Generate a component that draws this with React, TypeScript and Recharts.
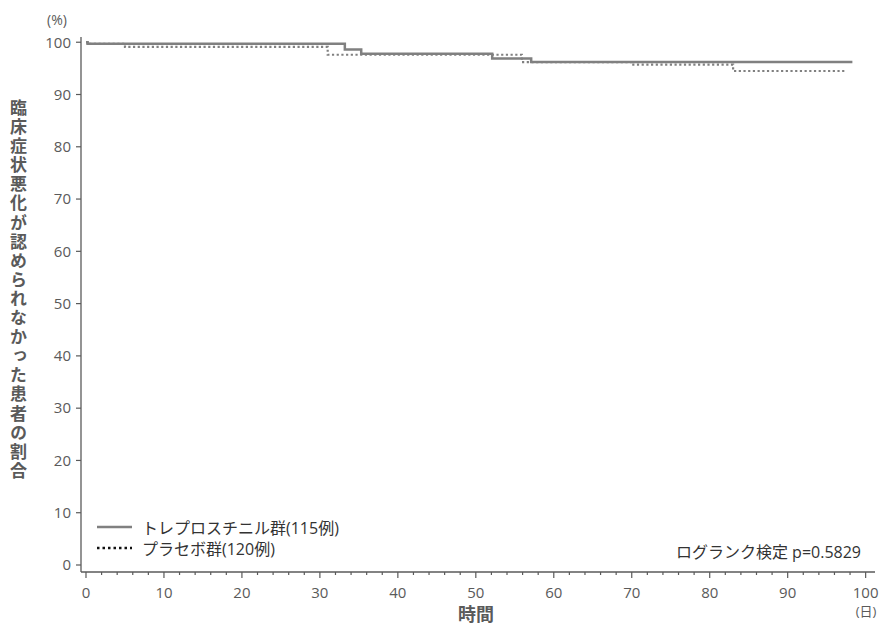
import React from 'react';
import { LineChart, Line, XAxis, YAxis, Legend } from 'recharts';

const treprostinilTimes = [0, 0.2, 33.2, 35.3, 52.1, 57.1, 98.3];
const treprostinilSurvival = [100, 99.7, 98.6, 97.8, 96.9, 96.2, 96.2];
const placeboTimes = [0, 0.2, 5.0, 31.0, 55.9, 70.0, 83.0, 97.5];
const placeboSurvival = [100, 99.7, 99.1, 97.6, 96.2, 95.7, 94.5, 94.5];

const xMajorTicks = [0, 10, 20, 30, 40, 50, 60, 70, 80, 90, 100];
const xAllTicks = [0, 2, 4, 6, 8, 10, 12, 14, 16, 18, 20, 22, 24, 26, 28, 30, 32, 34, 36, 38, 40, 42, 44, 46, 48, 50, 52, 54, 56, 58, 60, 62, 64, 66, 68, 70, 72, 74, 76, 78, 80, 82, 84, 86, 88, 90, 92, 94, 96, 98, 100];
const yTicks = [0, 10, 20, 30, 40, 50, 60, 70, 80, 90, 100];

const seriesNames = ['トレプロスチニル群(115例)', 'プラセボ群(120例)'];
const yTitle = '臨床症状悪化が認められなかった患者の割合';
const xTitle = '時間';
const xUnit = '(日)';
const yUnit = '(%)';
const logRankText = 'ログランク検定 p=0.5829';

const trepData = treprostinilTimes.map((t, i) => ({ t, s: treprostinilSurvival[i] }));
const placeboData = placeboTimes.map((t, i) => ({ t, s: placeboSurvival[i] }));

const FONT = "'Open Sans', 'Noto Sans CJK JP', sans-serif";
const AXIS = '#5a5a5a';
const LINE = '#808080';

const XTick = (props: any) => {
  const { x, y, payload } = props;
  const major = xMajorTicks.includes(payload.value);
  return (
    <g>
      <line x1={x} x2={x} y1={y} y2={y + (major ? 6 : 3)} stroke={AXIS} strokeWidth={1.2} />
      {major && (
        <text x={x} y={y + 26} textAnchor="middle" fill={AXIS} fontSize={15} fontFamily={FONT}>
          {payload.value}
        </text>
      )}
    </g>
  );
};

const LegendContent = () => (
  <div style={{ fontFamily: FONT, fontSize: 16, color: '#333' }}>
    <div style={{ display: 'flex', alignItems: 'center', height: 21 }}>
      <svg width={45} height={10}>
        <line x1={0} x2={35} y1={5} y2={5} stroke={LINE} strokeWidth={2.5} />
      </svg>
      <span>{seriesNames[0]}</span>
    </div>
    <div style={{ display: 'flex', alignItems: 'center', height: 21 }}>
      <svg width={45} height={10}>
        <line x1={0} x2={35} y1={5} y2={5} stroke="#111" strokeWidth={2.5} strokeDasharray="2.5 3" />
      </svg>
      <span>{seriesNames[1]}</span>
    </div>
  </div>
);

export default function App() {
  return (
    <div style={{ position: 'absolute', left: 0, top: 0, width: 883, height: 628, background: '#fff' }}>
      <LineChart
        width={883}
        height={628}
        margin={{ top: 37, right: 8, bottom: 26, left: 21 }}
      >
        <XAxis
          dataKey="t"
          type="number"
          domain={[-0.64, 101.2]}
          ticks={xAllTicks}
          interval={0}
          tick={<XTick />}
          tickLine={false}
          tickSize={0}
          tickMargin={0}
          height={30}
          axisLine={{ stroke: AXIS, strokeWidth: 1.3 }}
        />
        <YAxis
          type="number"
          domain={[-1.34, 101]}
          ticks={yTicks}
          interval={0}
          width={60}
          tickSize={5}
          tickMargin={5}
          tick={{ fill: AXIS, fontSize: 15, fontFamily: FONT }}
          tickLine={{ stroke: AXIS, strokeWidth: 1.2 }}
          axisLine={{ stroke: AXIS, strokeWidth: 1.3 }}
        />
        <Line
          data={placeboData}
          dataKey="s"
          type="stepAfter"
          stroke={LINE}
          strokeWidth={2.2}
          strokeDasharray="2.2 2.5"
          dot={false}
          activeDot={false}
          isAnimationActive={false}
        />
        <Line
          data={trepData}
          dataKey="s"
          type="stepAfter"
          stroke={LINE}
          strokeWidth={2.5}
          dot={false}
          activeDot={false}
          isAnimationActive={false}
        />
        <Legend
          layout="vertical"
          align="center"
          verticalAlign="middle"
          content={<LegendContent />}
          wrapperStyle={{ position: 'absolute', left: 97, top: 516, width: 300 }}
        />
      </LineChart>
      <div
        style={{
          position: 'absolute',
          left: 9,
          top: 99,
          writingMode: 'vertical-rl',
          textOrientation: 'upright',
          fontFamily: FONT,
          fontWeight: 700,
          fontSize: 17,
          letterSpacing: 2.1,
          lineHeight: 1,
          color: AXIS,
        }}
      >
        {yTitle}
      </div>
      <div style={{ position: 'absolute', left: 476, top: 615, transform: 'translate(-50%, -50%)', fontFamily: FONT, fontWeight: 700, fontSize: 18, lineHeight: 1.1, color: AXIS, whiteSpace: 'nowrap' }}>
        {xTitle}
      </div>
      <div style={{ position: 'absolute', left: 866, top: 611, transform: 'translate(-50%, -50%)', fontFamily: FONT, fontSize: 13, lineHeight: 1, color: AXIS, whiteSpace: 'nowrap' }}>
        {xUnit}
      </div>
      <div style={{ position: 'absolute', left: 57, top: 20, transform: 'translate(-50%, -50%)', fontFamily: FONT, fontSize: 14, lineHeight: 1, color: AXIS, whiteSpace: 'nowrap' }}>
        {yUnit}
      </div>
      <div style={{ position: 'absolute', right: 883 - 861, top: 552, transform: 'translateY(-50%)', fontFamily: FONT, fontSize: 16, lineHeight: 1, color: '#333', whiteSpace: 'nowrap' }}>
        {logRankText}
      </div>
    </div>
  );
}
